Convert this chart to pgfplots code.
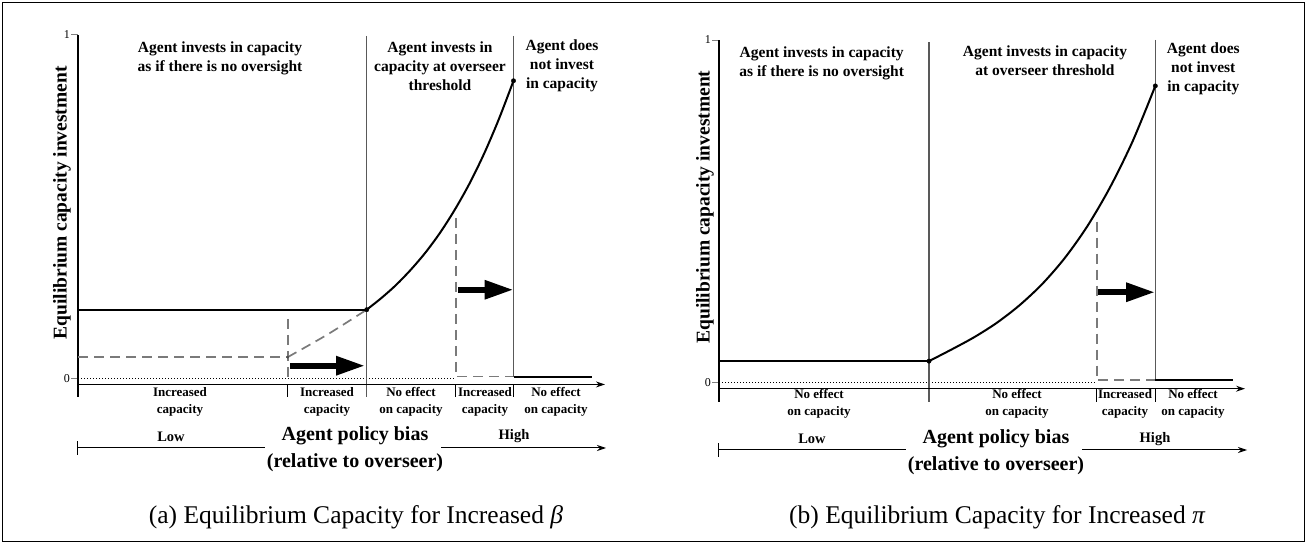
\documentclass[border=0pt]{standalone}
\usepackage{fontspec}
\setmainfont{Liberation Serif}
\usepackage{pgfplots}
\pgfplotsset{compat=1.18}
\usetikzlibrary{arrows.meta}
\newcommand\regfont{\bfseries\fontsize{15.5bp}{19bp}\selectfont}
\newcommand\lhfont{\bfseries\fontsize{14.5bp}{19bp}\selectfont}
\newcommand\segfont{\bfseries\fontsize{13bp}{17.2bp}\selectfont}
\newcommand\biasfont{\bfseries\fontsize{20bp}{27.5bp}\selectfont}
\newcommand\capfont{\fontsize{25.5bp}{26bp}\selectfont}
\pgfplotsset{
  panel/.style={
    anchor=south west, x=1bp, clip=false,
    xmin=0, xmax=527, ymax=1,
    axis x line=none, axis y line*=left,
    xtick=\empty, ytick={0,1},
    tick align=outside, major tick length=7bp,
    y axis line style={line width=1.3bp},
    ytick style={line width=0.8bp},
    /pgf/number format/assume math mode=true,
    yticklabel style={font=\fontsize{12bp}{12bp}\selectfont, inner sep=1bp},
  },
  solidl/.style={black, line width=2bp, no marks},
  dashl/.style={black!52, line width=1.7bp, dash pattern=on 10bp off 6bp, no marks},
  vertl/.style={black!65, line width=1.2bp, no marks},
  zerol/.style={black, line width=0.8bp, dash pattern=on 1.2bp off 1.8bp, no marks},
  sepl/.style={black, line width=1.1bp, no marks},
  axarrow/.style={black, line width=1.3bp, no marks, -{Stealth[length=9bp,width=6bp]}},
  blockarrow/.style={black, line width=6bp, no marks, -{Triangle[length=29bp,width=18bp]}},
  dotm/.style={only marks, mark=*, mark size=2.2bp, black},
}
\begin{document}
\begin{tikzpicture}[x=1bp,y=1bp]
\useasboundingbox (0,0) rectangle (1307,545);
\draw[line width=1bp] (2.5,3.5) rectangle (1304.5,542.5);

% ---------------- Panel (a) ----------------
\begin{axis}[panel, at={(78bp,148bp)}, y=343.7bp, ymin=-0.054,
  ylabel={Equilibrium capacity investment},
  every axis y label/.style={at={(axis description cs:-0.0304,0.536)}, rotate=90, anchor=center,
    font=\bfseries\fontsize{19.5bp}{19.5bp}\selectfont}]
\addplot[zerol] coordinates {(0,0) (377.7,0)};
\addplot[dashl] coordinates {(0,0.062) (209.7,0.062)};
\addplot[dashl, smooth] coordinates {(209.7,0.062) (249,0.127) (288.7,0.200)};
\addplot[dashl] coordinates {(209.7,0.173) (209.7,0)};
\addplot[dashl] coordinates {(377.7,0.467) (377.7,0.006) (435.5,0.006)};
\addplot[vertl] coordinates {(288.7,0.997) (288.7,-0.054)};
\addplot[vertl] coordinates {(435.7,0.997) (435.7,0.005)};
\addplot[solidl] coordinates {(0,0.200) (288.7,0.200)};
\addplot[solidl, smooth] coordinates {(288.7,0.200) (303.4,0.234) (318.1,0.272) (332.7,0.316) (347.4,0.366) (362.1,0.424) (376.8,0.491) (391.5,0.567) (406.1,0.654) (420.8,0.754) (435.5,0.866)};
\addplot[solidl] coordinates {(435.7,0.005) (514,0.005)};
\addplot[axarrow] coordinates {(0,-0.0175) (527,-0.0175)};
\addplot[sepl] coordinates {(209.7,-0.0175) (209.7,-0.054)};
\addplot[sepl] coordinates {(377.7,-0.0175) (377.7,-0.054)};
\addplot[sepl] coordinates {(435.7,-0.0175) (435.7,-0.054)};
\addplot[blockarrow] coordinates {(212,0.037) (287,0.037)};
\addplot[blockarrow] coordinates {(380,0.258) (435.5,0.258)};
\addplot[dotm] coordinates {(288.7,0.200) (435.5,0.866)};
\addplot[only marks, mark=*, mark size=1.2bp, black!70] coordinates {(209.7,0.062)};
\end{axis}

\node[align=center, font=\regfont] at (220,486.5) {Agent invests in capacity\\as if there is no oversight};
\node[align=center, font=\regfont] at (440,479) {Agent invests in\\capacity at overseer\\threshold};
\node[align=center, font=\regfont] at (562,479) {Agent does\\not invest\\in capacity};
\node[align=center, font=\segfont] at (180,143.2) {Increased\\capacity};
\node[align=center, font=\segfont] at (327,143.2) {Increased\\capacity};
\node[align=center, font=\segfont] at (411,143.2) {No effect\\on capacity};
\node[align=center, font=\segfont] at (485,143.2) {Increased\\capacity};
\node[align=center, font=\segfont] at (556,143.2) {No effect\\on capacity};
\node[font=\lhfont] at (171,108.6) {Low};
\node[font=\lhfont] at (514,109) {High};
\node[align=center, font=\biasfont] at (355,95.8) {Agent policy bias\\(relative to overseer)};
\draw[line width=1bp] (77,97) -- (265,97);
\draw[line width=1bp] (77,90) -- (77,104);
\draw[line width=1bp, -{Stealth[length=9bp,width=6bp]}] (441,97) -- (606,97);
\node[font=\capfont] at (356,27.5) {(a) Equilibrium Capacity for Increased {\itshape β}};

% ---------------- Panel (b) ----------------
\begin{axis}[panel, at={(719bp,143.3bp)}, y=342.7bp, ymin=-0.0554, xmax=526,
  ylabel={Equilibrium capacity investment},
  every axis y label/.style={at={(axis description cs:-0.0266,0.538)}, rotate=90, anchor=center,
    font=\bfseries\fontsize{19.5bp}{19.5bp}\selectfont}]
\addplot[zerol] coordinates {(0,0) (377.7,0)};
\addplot[dashl] coordinates {(377.7,0.470) (377.7,0.008) (436,0.008)};
\addplot[vertl] coordinates {(210,0.993) (210,-0.0554)};
\addplot[vertl] coordinates {(436.3,1) (436.3,0.008)};
\addplot[solidl] coordinates {(0,0.063) (210,0.063)};
\addplot[solidl, smooth] coordinates {(210,0.063) (232.6,0.097) (255.3,0.133) (277.9,0.175) (300.5,0.226) (323.2,0.288) (345.8,0.364) (368.4,0.457) (391.0,0.570) (413.7,0.705) (436.3,0.866)};
\addplot[solidl] coordinates {(436.3,0.008) (513.7,0.008)};
\addplot[axarrow] coordinates {(0,-0.0175) (526,-0.0175)};
\addplot[sepl] coordinates {(377.7,-0.0175) (377.7,-0.0554)};
\addplot[sepl] coordinates {(436.3,-0.0175) (436.3,-0.0554)};
\addplot[blockarrow] coordinates {(379,0.264) (436,0.264)};
\addplot[dotm] coordinates {(210,0.063) (436.3,0.866)};
\end{axis}

\node[align=center, font=\regfont] at (821.7,481.5) {Agent invests in capacity\\as if there is no oversight};
\node[align=center, font=\regfont] at (1045,484) {Agent invests in capacity\\at overseer threshold};
\node[align=center, font=\regfont] at (1203.3,476) {Agent does\\not invest\\in capacity};
\node[align=center, font=\segfont] at (819,140.8) {No effect\\on capacity};
\node[align=center, font=\segfont] at (1017,140.8) {No effect\\on capacity};
\node[align=center, font=\segfont] at (1125,140.8) {Increased\\capacity};
\node[align=center, font=\segfont] at (1193,140.8) {No effect\\on capacity};
\node[font=\lhfont] at (812,106) {Low};
\node[font=\lhfont] at (1155,106) {High};
\node[align=center, font=\biasfont] at (996,93) {Agent policy bias\\(relative to overseer)};
\draw[line width=1bp] (718,95) -- (906,95);
\draw[line width=1bp] (718,88) -- (718,102);
\draw[line width=1bp, -{Stealth[length=9bp,width=6bp]}] (1082,95) -- (1247,95);
\node[font=\capfont] at (997,27.5) {(b) Equilibrium Capacity for Increased {\itshape π}};
\end{tikzpicture}
\end{document}
